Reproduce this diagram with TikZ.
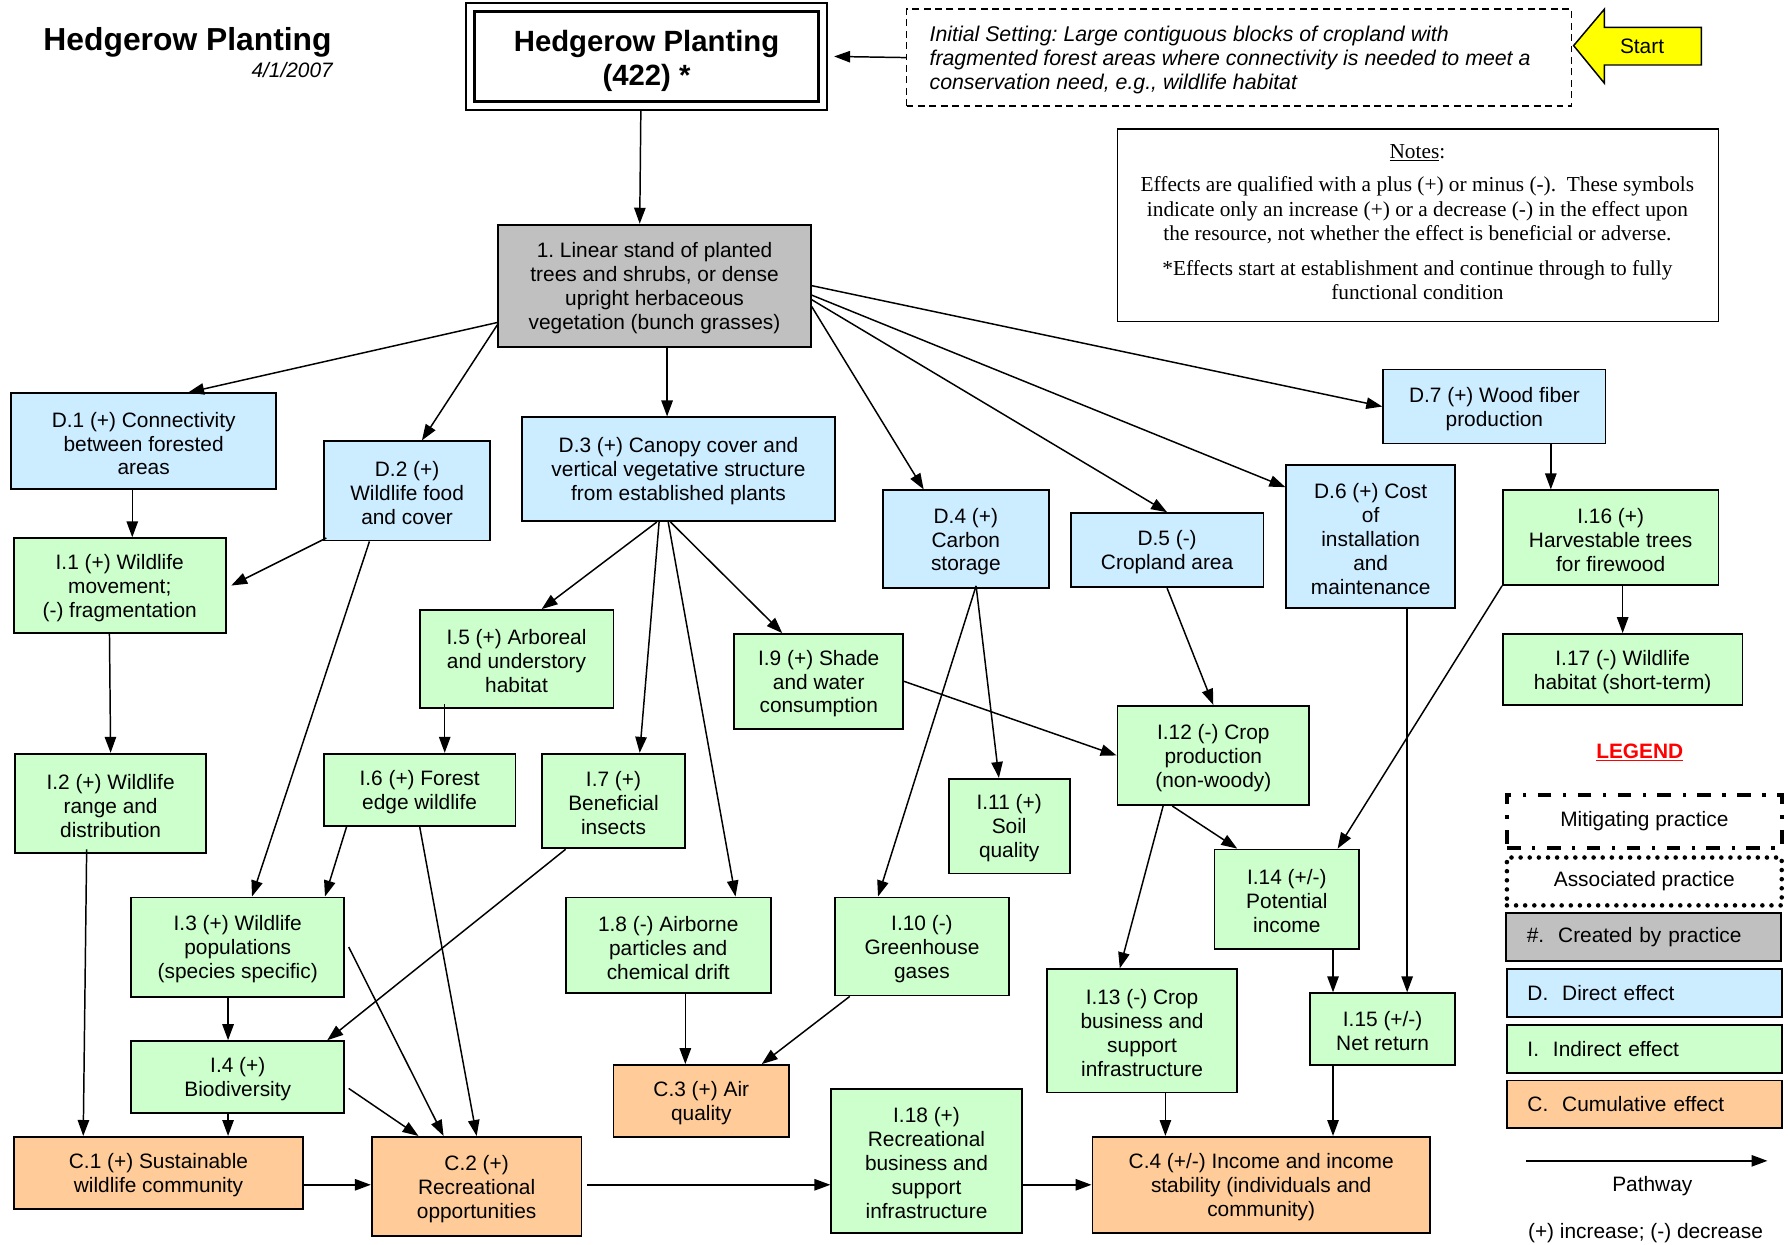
\documentclass[tikz,border=0pt]{standalone}
\usepackage{fontspec}
\setmainfont{Liberation Sans}
\newfontfamily\notesfont{Liberation Serif}
\usetikzlibrary{arrows.meta,calc}
\frenchspacing

\definecolor{dfill}{HTML}{CCECFF}
\definecolor{ifill}{HTML}{CCFFCC}
\definecolor{cfill}{HTML}{FFCC99}
\definecolor{pfill}{HTML}{C0C0C0}
\definecolor{startfill}{HTML}{FFFF00}
\definecolor{legendred}{HTML}{FF0000}

\tikzset{
  txt/.style={inner sep=0pt, align=center, font=\fontsize{18.3}{21}\selectfont},
  box/.style={inner sep=0pt, draw=black, line width=1.6pt},
  pbox/.style={box, fill=pfill},
  dbox/.style={box, fill=dfill},
  ibox/.style={box, fill=ifill},
  cbox/.style={box, fill=cfill},
  arr/.style={line width=1.3pt, -{Triangle[length=14pt,width=10pt]}},
  legbox/.style={txt, line width=1.6pt, align=left, inner xsep=18pt},
}

% box from its corners, with its text set slightly below the centre:
% [text style], box style, name, x1, y1, x2, y2, text
\newcommand\bx[8][]{%
  \node[#2, minimum width={(#6-#4)*1pt}, minimum height={(#7-#5)*1pt}]
    (#3) at ({(#4+#6)/2},{(#5+#7)/2}) {};
  \node[txt, #1] (#3-t) at ([yshift=-2pt]#3.center) {#8};}

\begin{document}
\begin{tikzpicture}[x=1pt,y=-1pt]
\useasboundingbox[fill=white] (0,0) rectangle (1568,1091);

% ---------- header ----------
\node[inner sep=0pt, anchor=east, font=\fontsize{27.9}{33}\selectfont\bfseries] (title) at (291,37) {Hedgerow Planting};
\node[inner sep=0pt, anchor=east, font=\fontsize{18.3}{21}\selectfont\itshape] (date) at (292,61) {4/1/2007};

\node[box, line width=3pt, minimum width=302pt, minimum height=79pt] (main) at (567,49.5) {};
\node[txt, font=\fontsize{25.7}{30}\selectfont\bfseries] (main-t) at ([yshift=-4pt]main.center) {Hedgerow Planting\\(422) *};
\draw[line width=1.8pt] ([shift={(-6,-6)}]main.north west) rectangle ([shift={(6,6)}]main.south east);

\node[box, line width=1.4pt, dash pattern=on 6pt off 4pt, minimum width=583pt, minimum height=85pt] (init) at (1086.5,50.5) {};
\node[txt, align=left, anchor=west, font=\fontsize{18.7}{21}\selectfont\itshape] (init-t) at (815,53)
  {Initial Setting: Large contiguous blocks of cropland with\\
   fragmented forest areas where connectivity is needed to meet a\\
   conservation need, e.g., wildlife habitat};

\draw[line width=1.3pt, fill=startfill] (1380,40) -- (1407,8) -- (1407,24) -- (1492,24) -- (1492,57)
  -- (1407,57) -- (1407,73) -- cycle;
\node[txt] (start) at (1440,41) {Start};

% ---------- notes ----------
\node[box, line width=1.4pt, minimum width=527pt, minimum height=169pt] (notes) at (1243.5,197.5) {};
\begin{scope}[every node/.style={txt, font=\notesfont\fontsize{18.7}{21.4}\selectfont}]
\node (notehead) at (1243,134) {\underline{Notes}:};
\node (notea) at (1243,184.5) {Effects are qualified with a plus (+) or minus (-).\ \ These symbols\\
  indicate only an increase (+) or a decrease (-) in the effect upon\\
  the resource, not whether the effect is beneficial or adverse.};
\node (noteb) at (1243,245.5) {*Effects start at establishment and continue through to fully\\
  functional condition};
\end{scope}

% ---------- practice ----------
\bx{pbox}{gray}{437}{197}{711}{304}{1. Linear stand of planted\\trees and shrubs, or dense\\upright herbaceous\\vegetation (bunch grasses)}

% ---------- direct effects ----------
\bx{dbox}{d1}{10}{345}{242}{429}{D.1 (+) Connectivity\\between forested\\areas}
\bx{dbox}{d2}{284}{387}{430}{474}{D.2 (+)\\Wildlife food\\and cover}
\bx{dbox}{d3}{458}{366}{732}{457}{D.3 (+) Canopy cover and\\vertical vegetative structure\\from established plants}
\bx{dbox}{d4}{774}{430}{920}{516}{D.4 (+)\\Carbon\\storage}
\bx{dbox}{d5}{939}{450}{1108}{515}{D.5 (-)\\Cropland area}
\bx{dbox}{d6}{1128}{408}{1276}{533}{D.6 (+) Cost\\of\\installation\\and\\maintenance}
\bx{dbox}{d7}{1213}{324}{1408}{389}{D.7 (+) Wood fiber\\production}

% ---------- indirect effects ----------
\bx{ibox}{i1}{12}{472}{198}{555}{I.1 (+) Wildlife\\movement;\\(-) fragmentation}
\bx{ibox}{i2}{13}{661}{181}{748}{I.2 (+) Wildlife\\range and\\distribution}
\bx{ibox}{i3}{115}{787}{302}{874}{I.3 (+) Wildlife\\populations\\(species specific)}
\bx{ibox}{i4}{115}{913}{302}{976}{I.4 (+)\\Biodiversity}
\bx{ibox}{i5}{368}{535}{538}{621}{I.5 (+) Arboreal\\and understory\\habitat}
\bx{ibox}{i6}{284}{661}{452}{724}{I.6 (+) Forest\\edge wildlife}
\bx{ibox}{i7}{475}{661}{601}{744}{I.7 (+)\\Beneficial\\insects}
\bx{ibox}{i8}{496}{787}{676}{871}{1.8 (-) Airborne\\particles and\\chemical drift}
\bx{ibox}{i9}{644}{556}{792}{639}{I.9 (+) Shade\\and water\\consumption}
\bx{ibox}{i10}{732}{787}{885}{873}{I.10 (-)\\Greenhouse\\gases}
\bx{ibox}{i11}{832}{683}{938}{766}{I.11 (+)\\Soil\\quality}
\bx{ibox}{i12}{980}{619}{1148}{706}{I.12 (-) Crop\\production\\(non-woody)}
\bx{ibox}{i13}{918}{850}{1085}{958}{I.13 (-) Crop\\business and\\support\\infrastructure}
\bx{ibox}{i14}{1065}{745}{1192}{832}{I.14 (+/-)\\Potential\\income}
\bx{ibox}{i15}{1149}{871}{1276}{934}{I.15 (+/-)\\Net return}
\bx{ibox}{i16}{1318}{430}{1507}{513}{I.16 (+)\\Harvestable trees\\for firewood}
\bx{ibox}{i17}{1318}{556}{1528}{618}{I.17 (-) Wildlife\\habitat (short-term)}
\bx{ibox}{i18}{729}{955}{896}{1081}{I.18 (+)\\Recreational\\business and\\support\\infrastructure}

% ---------- cumulative effects ----------
\bx{cbox}{c1}{12}{997}{266}{1060}{C.1 (+) Sustainable\\wildlife community}
\bx{cbox}{c2}{326}{997}{510}{1084}{C.2 (+)\\Recreational\\opportunities}
\bx{cbox}{c3}{538}{934}{692}{997}{C.3 (+) Air\\quality}
\bx{cbox}{c4}{958}{997}{1254}{1081}{C.4 (+/-) Income and income\\stability (individuals and\\community)}

% ---------- pathways ----------
\draw[arr] (init.west) -- ([shift={(12,0)}]main.east);
\draw[arr] ([shift={(-5,6)}]main.south) -- ([shift={(-13,0)}]gray.north);

\draw[arr] ([shift={(0,-22)}]gray.south west) -- ([shift={(39,0)}]d1.north);
\draw[arr] ([shift={(0,-20)}]gray.south west) -- ([shift={(13,0)}]d2.north);
\draw[arr] ([shift={(11,0)}]gray.south) -- ([shift={(-10,0)}]d3.north);
\draw[arr] ([shift={(0,-36)}]gray.south east) -- ([shift={(-37,0)}]d4.north);
\draw[arr] ([shift={(0,-42)}]gray.south east) -- (d5.north);
\draw[arr] ([shift={(0,-46)}]gray.south east) -- ([shift={(0,20)}]d6.north west);
\draw[arr] (gray.east) -- (d7.west);

\draw[arr] ([shift={(-10,0)}]d1.south) -- ([shift={(11,0)}]i1.north);
\draw[arr] ([shift={(3,-3)}]d2.south west) -- ([shift={(4,0)}]i1.east);
\draw[arr] ([shift={(-33,0)}]d2.south) -- ([shift={(12.5,0)}]i3.north);
\draw[arr] ([shift={(-19,0)}]d3.south) -- ([shift={(22,0)}]i5.north);
\draw[arr] ([shift={(-17,0)}]d3.south) -- ([shift={(23,0)}]i7.north);
\draw[arr] ([shift={(-9,0)}]d3.south) -- ([shift={(59,0)}]i8.north);
\draw[arr] ([shift={(-7,0)}]d3.south) -- ([shift={(-32,0)}]i9.north);
\draw[arr] ([shift={(9,-3)}]d4.south) -- ([shift={(-9,0)}]i11.north);
\draw[arr] ([shift={(9,-3)}]d4.south) -- ([shift={(-38.5,0)}]i10.north);
\draw[arr] (d5.south) -- (i12.north);
\draw[arr] ([shift={(32,0)}]d6.south) -- ([shift={(21.5,0)}]i15.north);
\draw[arr] ([shift={(49.5,0)}]d7.south) -- ([shift={(-52.5,0)}]i16.north);

\draw[arr] ([shift={(10.5,0)}]i16.south) -- (i17.north);
\draw[arr] (i16.south west) -- ([shift={(44.5,0)}]i14.north);
\draw[arr] ([shift={(-9,0)}]i1.south) -- (i2.north);
\draw[arr] ([shift={(-21,-4)}]i2.south) -- ([shift={(-66,0)}]c1.north);
\draw[arr] ([shift={(-63,-4)}]i5.south) -- ([shift={(22,0)}]i6.north);
\draw[arr] ([shift={(-64,0)}]i6.south) -- ([shift={(76.5,0)}]i3.north);
\draw[arr] (i6.south) -- (c2.north);
\draw[arr] ([shift={(-42,0)}]i7.south) -- ([shift={(78.5,0)}]i4.north);
\draw[arr] ([shift={(-8.5,0)}]i3.south) -- ([shift={(-8.5,0)}]i4.north);
\draw[arr] ([shift={(3,0)}]i3.east) -- ([shift={(-29,0)}]c2.north);
\draw[arr] ([shift={(-8.5,0)}]i4.south) -- ([shift={(61,0)}]c1.north);
\draw[arr] ([shift={(3,10)}]i4.east) -- ([shift={(-51,0)}]c2.north);
\draw[arr] ([shift={(15,0)}]i8.south) -- ([shift={(-14,0)}]c3.north);
\draw[arr] ([shift={(14,0)}]i10.south west) -- ([shift={(53,0)}]c3.north);
\draw[arr] (i9.east) -- (i12.west);
\draw[arr] ([shift={(-36,0)}]i12.south) -- ([shift={(-43.5,0)}]i14.north);
\draw[arr] ([shift={(-44,0)}]i12.south) -- ([shift={(-19.5,0)}]i13.north);
\draw[arr] ([shift={(40.5,0)}]i14.south) -- ([shift={(-43.5,0)}]i15.north);
\draw[arr] ([shift={(20.5,0)}]i13.south) -- ([shift={(-84,0)}]c4.north);
\draw[arr] ([shift={(-43.5,0)}]i15.south) -- ([shift={(63,0)}]c4.north);

\draw[arr] ([shift={(0,10.5)}]c1.east) -- ([shift={(0,-1.5)}]c2.west);
\draw[arr] ([shift={(4,-1.5)}]c2.east) -- ([shift={(0,21)}]i18.west);
\draw[arr] ([shift={(0,21)}]i18.east) -- (c4.west);

% ---------- legend ----------
\node[txt, font=\fontsize{18.3}{21}\selectfont\bfseries, text=legendred] (legend) at (1438,660) {\underline{LEGEND}};
\node[legbox, align=center, draw, line width=3.5pt, dash pattern=on 12pt off 10pt on 3pt off 10pt,
  minimum width=241pt, minimum height=47pt] (lmit) at (1442,720.5) {Mitigating practice};
\node[legbox, align=center, draw, line width=4pt, line cap=round, dash pattern=on 0pt off 8pt,
  minimum width=241pt, minimum height=42pt] (lassoc) at (1442,773) {Associated practice};
\node[legbox, draw, fill=pfill, text width=205pt, minimum height=42pt] (lprac) at (1441.5,822) {\#.\ \ Created by practice};
\node[legbox, draw, fill=dfill, text width=205pt, minimum height=42pt] (ldir) at (1442,870.5) {D.\ \ Direct effect};
\node[legbox, draw, fill=ifill, text width=205pt, minimum height=42pt] (lind) at (1442,920) {I.\ \ Indirect effect};
\node[legbox, draw, fill=cfill, text width=205pt, minimum height=42pt] (lcum) at (1442,968.5) {C.\ \ Cumulative effect};
\coordinate (pwa) at (1338,1018);
\coordinate (pwb) at (1550,1018);
\draw[arr] (pwa) -- (pwb);
\node[txt] (pathway) at (1449,1040) {Pathway};
\node[txt] (signs) at (1443,1081) {(+) increase; (-) decrease};
\end{tikzpicture}
\end{document}
